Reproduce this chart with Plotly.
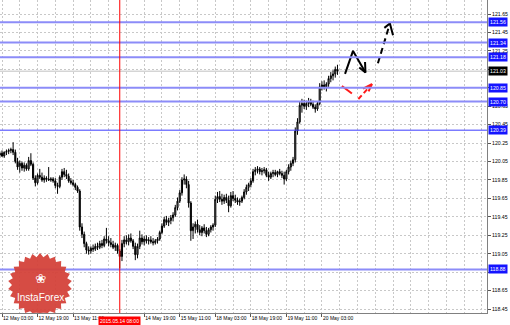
import math
import plotly.graph_objects as go

# ---------------- data ----------------
bar_index = list(range(-1, 152))  # H1 bars, 0 = 12 May 03:00

opens = [120.12,120.14,120.11,120.15,120.16,120.17,120.18,120.15,120.05,120.00,120.03,119.98,120.01,119.97,120.06,120.02,119.87,119.82,119.90,119.88,119.85,119.87,119.86,119.85,119.86,119.84,119.79,119.78,119.88,119.94,119.91,119.89,119.84,119.82,119.80,119.77,119.73,119.34,119.26,119.16,119.09,119.08,119.11,119.10,119.13,119.12,119.16,119.14,119.21,119.19,119.17,119.15,119.12,119.14,119.08,119.02,119.16,119.20,119.18,119.22,119.19,119.13,119.04,119.13,119.22,119.18,119.21,119.19,119.20,119.18,119.17,119.19,119.21,119.28,119.35,119.42,119.39,119.41,119.44,119.47,119.55,119.62,119.71,119.85,119.86,119.80,119.60,119.30,119.34,119.37,119.31,119.28,119.33,119.30,119.26,119.31,119.34,119.36,119.64,119.67,119.64,119.62,119.66,119.63,119.57,119.68,119.65,119.63,119.61,119.62,119.66,119.72,119.77,119.80,119.84,119.94,119.96,119.97,119.94,119.95,119.96,119.90,119.88,119.92,119.93,119.91,119.94,119.92,119.90,119.86,119.94,119.99,120.03,120.07,120.38,120.48,120.66,120.68,120.65,120.68,120.70,120.67,120.64,120.62,120.68,120.86,120.88,120.86,120.89,120.95,120.98,121.00,121.05]
highs = [120.16,120.17,120.16,120.18,120.19,120.20,120.26,120.18,120.09,120.06,120.05,120.04,120.03,120.10,120.14,120.04,119.90,119.92,119.97,119.93,119.90,119.89,119.99,119.88,119.88,119.87,119.82,119.90,119.97,119.98,119.96,119.92,119.87,119.85,119.82,119.79,119.75,119.38,119.29,119.18,119.13,119.13,119.15,119.16,119.17,119.19,119.20,119.24,119.33,119.24,119.22,119.19,119.17,119.16,119.10,119.20,119.24,119.25,119.26,119.27,119.21,119.17,119.16,119.30,119.26,119.24,119.25,119.23,119.24,119.22,119.21,119.23,119.30,119.38,119.45,119.46,119.44,119.47,119.50,119.58,119.66,119.74,119.88,119.91,119.89,119.84,119.62,119.38,119.40,119.42,119.36,119.35,119.37,119.34,119.33,119.36,119.38,119.68,119.72,119.73,119.70,119.69,119.70,119.68,119.72,119.73,119.69,119.66,119.65,119.68,119.75,119.80,119.82,119.87,119.97,119.99,120.00,119.99,119.98,119.99,119.98,119.94,119.94,119.96,119.96,119.95,119.97,119.95,119.94,119.96,120.02,120.06,120.10,120.42,120.52,120.70,120.73,120.72,120.71,120.74,120.73,120.71,120.67,120.70,120.90,120.92,120.93,120.91,120.98,121.02,121.04,121.08,121.10]
lows = [120.09,120.10,120.09,120.12,120.13,120.14,120.12,120.03,119.96,119.93,119.95,119.94,119.95,119.95,120.00,119.85,119.78,119.80,119.86,119.83,119.82,119.83,119.84,119.83,119.82,119.76,119.70,119.76,119.85,119.88,119.86,119.82,119.80,119.78,119.74,119.71,119.30,119.22,119.12,119.05,119.04,119.05,119.07,119.08,119.09,119.10,119.11,119.12,119.16,119.13,119.12,119.10,119.08,119.05,118.89,118.97,119.12,119.15,119.14,119.17,119.10,118.98,119.00,119.10,119.15,119.14,119.16,119.15,119.16,119.14,119.15,119.16,119.19,119.26,119.33,119.36,119.35,119.37,119.40,119.45,119.52,119.60,119.68,119.80,119.76,119.55,119.19,119.21,119.27,119.28,119.25,119.24,119.27,119.23,119.24,119.28,119.30,119.34,119.60,119.61,119.58,119.59,119.60,119.50,119.55,119.62,119.60,119.58,119.57,119.60,119.64,119.69,119.73,119.77,119.82,119.90,119.92,119.91,119.90,119.92,119.88,119.84,119.86,119.88,119.89,119.88,119.90,119.87,119.80,119.84,119.91,119.95,120.00,120.04,120.34,120.46,120.58,120.62,120.61,120.64,120.65,120.62,120.58,120.60,120.66,120.82,120.83,120.81,120.86,120.91,120.93,120.96,120.99]
closes = [120.14,120.11,120.15,120.16,120.17,120.18,120.15,120.05,119.99,120.03,119.98,120.01,119.97,120.06,120.02,119.87,119.82,119.90,119.88,119.85,119.87,119.86,119.85,119.86,119.84,119.79,119.78,119.88,119.94,119.91,119.89,119.84,119.82,119.80,119.77,119.73,119.34,119.26,119.16,119.09,119.08,119.11,119.10,119.13,119.12,119.16,119.14,119.21,119.19,119.17,119.15,119.12,119.14,119.08,119.02,119.16,119.20,119.18,119.22,119.19,119.13,119.04,119.13,119.22,119.18,119.21,119.19,119.20,119.18,119.17,119.19,119.21,119.28,119.35,119.42,119.39,119.41,119.44,119.47,119.55,119.62,119.71,119.85,119.86,119.80,119.60,119.30,119.34,119.37,119.31,119.28,119.33,119.30,119.26,119.31,119.34,119.36,119.64,119.67,119.64,119.62,119.66,119.63,119.57,119.68,119.65,119.63,119.61,119.62,119.66,119.72,119.77,119.80,119.84,119.94,119.96,119.97,119.94,119.95,119.96,119.90,119.88,119.92,119.93,119.91,119.94,119.92,119.90,119.86,119.94,119.99,120.03,120.07,120.38,120.48,120.66,120.68,120.65,120.68,120.70,120.67,120.64,120.62,120.68,120.86,120.88,120.86,120.89,120.95,120.98,121.00,121.05,121.03]

time_tick_pos = [0, 16, 32, 64, 80, 96, 112, 128, 144]
time_tick_text = ["12 May 03:00", "12 May 19:00", "13 May 11:00", "14 May 19:00",
                  "15 May 11:00", "18 May 03:00", "18 May 19:00", "19 May 11:00", "20 May 03:00"]
price_ticks = [118.45, 118.65, 118.85, 119.05, 119.25, 119.45, 119.65, 119.85, 120.05,
               120.25, 120.45, 120.65, 120.85, 121.05, 121.25, 121.45, 121.65]
hidden_price_ticks = [118.85, 120.85, 121.05]  # covered by level badges in the reference

levels = [121.56, 121.34, 121.18, 120.85, 120.70, 120.39, 118.88]
level_width = [2, 2, 2, 2, 2, 1, 2]
last_price = 121.03
marker_bar = 53
marker_text = "2015.05.14 08:00"

# forecast drawings (bar index, price)
black_solid_x = [154.4, 158.0, 163.6]
black_solid_y = [121.00, 121.25, 121.016]
black_head_x = [163.4, 163.6, 160.8]
black_head_y = [121.13, 121.016, 121.07]
black_dash_x = [169.2, 174.6]
black_dash_y = [121.116, 121.547]
black_dhead_x = [172.1, 174.6, 176.0]
black_dhead_y = [121.50, 121.547, 121.42]
red_solid_x = [153.0, 157.5]
red_solid_y = [120.869, 120.788]
red_dash_x = [160.4, 166.5]
red_dash_y = [120.728, 120.89]
red_head_x = [162.5, 166.5, 165.0]
red_head_y = [120.84, 120.89, 120.81]

FONT = "Liberation Sans"
XFS = 5.0
YFS = 5.2
X_RANGE = [-0.9, 218.3]
Y_RANGE = [118.407, 121.802]

fig = go.Figure()

fig.add_trace(go.Candlestick(
    x=bar_index, open=opens, high=highs, low=lows, close=closes,
    increasing=dict(line=dict(color="#000000", width=1), fillcolor="#9a9a9a"),
    decreasing=dict(line=dict(color="#000000", width=1), fillcolor="#000000"),
    whiskerwidth=0, showlegend=False, hoverinfo="skip"))

def line_trace(xs, ys, color, dash="solid", width=2):
    fig.add_trace(go.Scatter(x=xs, y=ys, mode="lines",
                             line=dict(color=color, width=width, dash=dash),
                             showlegend=False, hoverinfo="skip"))

line_trace(black_solid_x, black_solid_y, "#000000")
line_trace(black_head_x, black_head_y, "#000000")
line_trace(black_dash_x, black_dash_y, "#000000", dash="6px,4px")
line_trace(black_dhead_x, black_dhead_y, "#000000")
line_trace(red_solid_x, red_solid_y, "#ff1a1a")
line_trace(red_dash_x, red_dash_y, "#ff1a1a", dash="5px,3px")
line_trace(red_head_x, red_head_y, "#ff1a1a")

shapes = []
annotations = []

# horizontal levels
for lv, w in zip(levels, level_width):
    col = "#3c3cff" if w == 1 else "#8c8cf8"
    shapes.append(dict(type="line", xref="paper", x0=0, x1=1, yref="y", y0=lv, y1=lv,
                       line=dict(color=col, width=w), layer="above"))
    annotations.append(dict(xref="paper", x=1, xanchor="left", xshift=1, yref="y", y=lv,
                            text=f"{lv:.2f}", showarrow=False, bgcolor="#1414ff",
                            font=dict(family=FONT, size=YFS, color="#ffffff"), borderpad=1))

# last price line
shapes.append(dict(type="line", xref="paper", x0=0, x1=1, yref="y", y0=last_price, y1=last_price,
                   line=dict(color="#c0c0c0", width=1), layer="below"))
annotations.append(dict(xref="paper", x=1, xanchor="left", xshift=1, yref="y", y=last_price,
                        text=f"{last_price:.2f}", showarrow=False, bgcolor="#000000",
                        font=dict(family=FONT, size=YFS, color="#ffffff"), borderpad=1))

# red vertical marker
shapes.append(dict(type="line", xref="x", x0=marker_bar, x1=marker_bar, yref="paper", y0=0, y1=1,
                   line=dict(color="red", width=1), layer="above"))
annotations.append(dict(xref="x", x=marker_bar, xanchor="center", yref="paper", y=0, yanchor="top",
                        yshift=-3, text=marker_text, showarrow=False, bgcolor="#ff0000",
                        font=dict(family=FONT, size=XFS, color="#ffffff"), borderpad=1))

# logo starburst (decoration), pixel path relative to anchor
PW, PH = 487.0, 313.0
cx, cy = 40.0, 285.0
pts = []
n = 26
for k in range(2 * n):
    r = 32.0 if k % 2 == 0 else 28.0
    a = math.pi * k / n
    px = cx + r * math.sin(a)
    py = cy - r * math.cos(a)
    py = min(py, PH)
    pts.append((px - cx, -(py - cy)))
path = "M " + " L ".join(f"{x:.1f},{y:.1f}" for x, y in pts) + " Z"
shapes.append(dict(type="path", xref="paper", yref="paper", xsizemode="pixel", ysizemode="pixel",
                   xanchor=cx / PW, yanchor=1 - cy / PH, path=path,
                   fillcolor="#d4423a", line=dict(width=0), layer="above", opacity=0.95))
annotations.append(dict(xref="paper", yref="paper", x=cx / PW, y=1 - 297 / PH, text="InstaForex",
                        xanchor="center", yanchor="middle",
                        showarrow=False, font=dict(family=FONT, size=10, color="#ffffff")))
annotations.append(dict(xref="paper", yref="paper", x=cx / PW, y=1 - 278 / PH, text="❀",
                        xanchor="center", yanchor="middle",
                        showarrow=False, font=dict(family="DejaVu Sans", size=13, color="#ffffff")))

fig.update_layout(
    width=510, height=325,
    margin=dict(l=0, r=23, t=0, b=12),
    paper_bgcolor="#ffffff", plot_bgcolor="#ffffff",
    shapes=shapes, annotations=annotations,
    font=dict(family=FONT, size=XFS, color="#000000"),
    xaxis=dict(range=X_RANGE, tickmode="array", tickvals=time_tick_pos, ticktext=time_tick_text,
               ticks="outside", ticklen=3, tickcolor="#555555", ticklabelposition="outside right",
               tickangle=0, automargin=False,
               tickfont=dict(family=FONT, size=XFS, color="#000000"),
               showgrid=True, gridcolor="#c8c8c8", griddash="2px,2px", gridwidth=1,
               minor=dict(tickmode="linear", tick0=0, dtick=8, showgrid=True, gridcolor="#c8c8c8",
                          griddash="2px,2px", ticks=""),
               showline=True, linecolor="#808080", linewidth=1, zeroline=False,
               rangeslider=dict(visible=False), fixedrange=True),
    yaxis=dict(range=Y_RANGE, side="right", tickmode="array", tickvals=price_ticks,
               ticktext=["" if v in hidden_price_ticks else f"{v:.2f}" for v in price_ticks],
               ticks="outside", ticklen=3, tickcolor="#555555", automargin=False,
               tickfont=dict(family=FONT, size=YFS, color="#000000"),
               showgrid=True, gridcolor="#c8c8c8", griddash="2px,2px", gridwidth=1,
               showline=True, linecolor="#808080", linewidth=1, zeroline=False, fixedrange=True),
)

fig.write_html("out.html")
